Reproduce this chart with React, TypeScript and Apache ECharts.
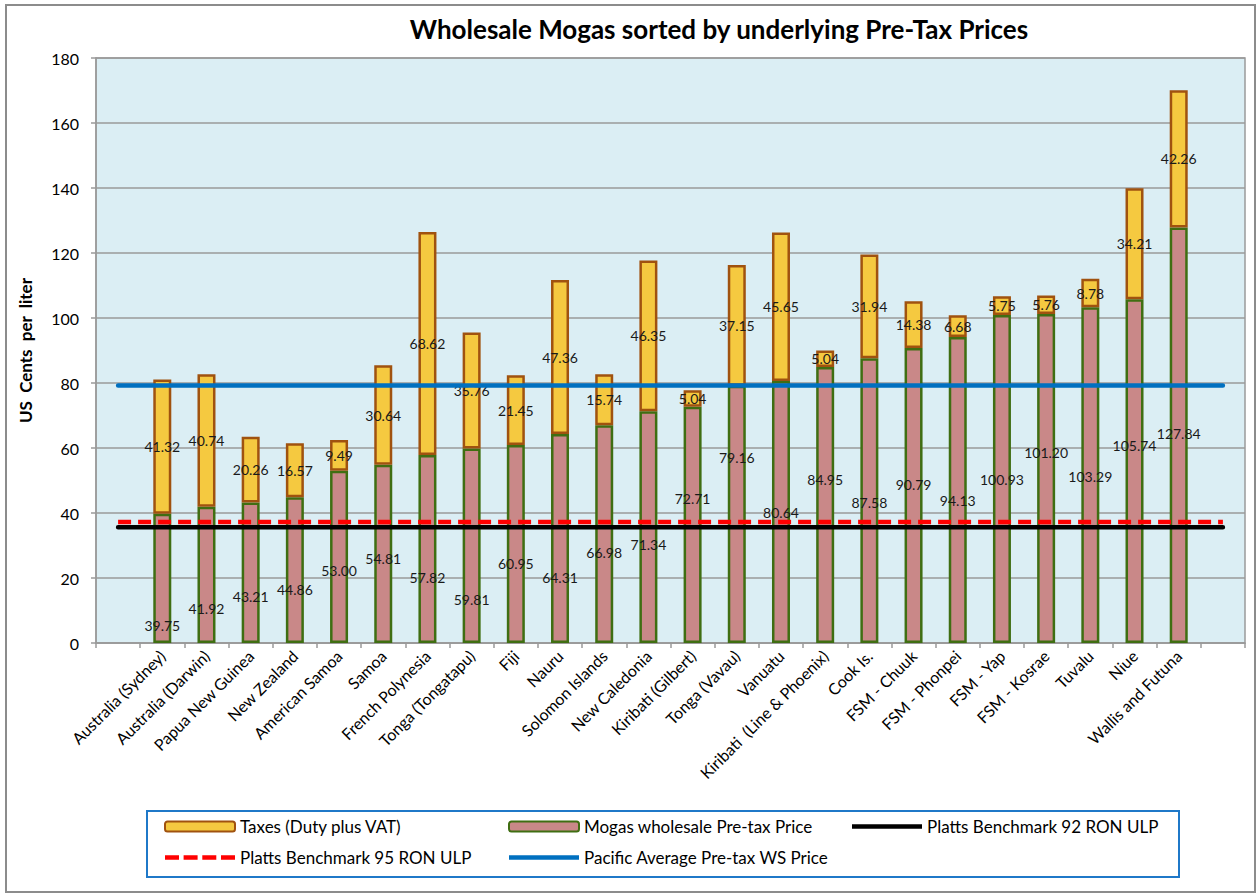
import React, { useEffect, useRef } from "react";
import * as echarts from "echarts";

const countries = [
  "Australia (Sydney)", "Australia (Darwin)", "Papua New Guinea", "New Zealand",
  "American Samoa", "Samoa", "French Polynesia", "Tonga (Tongatapu)", "Fiji", "Nauru",
  "Solomon Islands", "New Caledonia", "Kiribati (Gilbert)", "Tonga (Vavau)", "Vanuatu",
  "Kiribati  (Line & Phoenix)", "Cook Is.", "FSM - Chuuk", "FSM - Phonpei", "FSM - Yap",
  "FSM - Kosrae", "Tuvalu", "Niue", "Wallis and Futuna",
];
const preTax = [
  39.75, 41.92, 43.21, 44.86, 53.0, 54.81, 57.82, 59.81, 60.95, 64.31, 66.98, 71.34,
  72.71, 79.16, 80.64, 84.95, 87.58, 90.79, 94.13, 100.93, 101.2, 103.29, 105.74, 127.84,
];
const taxes = [
  41.32, 40.74, 20.26, 16.57, 9.49, 30.64, 68.62, 35.76, 21.45, 47.36, 15.74, 46.35,
  5.04, 37.15, 45.65, 5.04, 31.94, 14.38, 6.68, 5.75, 5.76, 8.78, 34.21, 42.26,
];
// Benchmark lines, one value per category slot (including the empty edge slots)
const platts92 = [
  35.6, 35.6, 35.6, 35.6, 35.6, 35.6, 35.6, 35.6, 35.6, 35.6, 35.6, 35.6, 35.6,
  35.6, 35.6, 35.6, 35.6, 35.6, 35.6, 35.6, 35.6, 35.6, 35.6, 35.6, 35.6, 35.6,
];
const platts95 = [
  37.2, 37.2, 37.2, 37.2, 37.2, 37.2, 37.2, 37.2, 37.2, 37.2, 37.2, 37.2, 37.2,
  37.2, 37.2, 37.2, 37.2, 37.2, 37.2, 37.2, 37.2, 37.2, 37.2, 37.2, 37.2, 37.2,
];
const pacificAvg = [
  79.2, 79.2, 79.2, 79.2, 79.2, 79.2, 79.2, 79.2, 79.2, 79.2, 79.2, 79.2, 79.2,
  79.2, 79.2, 79.2, 79.2, 79.2, 79.2, 79.2, 79.2, 79.2, 79.2, 79.2, 79.2, 79.2,
];
const yTicks = { min: 0, max: 180, interval: 20 };

// layout: heights (axis units) of the hand-placed pre-tax labels
const preTaxLabelAt = [
  5.5, 10.5, 14.4, 16.5, 22.2, 26.1, 20.1, 13.5, 24.6, 20.1, 27.8, 30.2,
  44.5, 57.2, 40.1, 50.2, 43.3, 48.8, 43.9, 50.2, 58.5, 51.3, 60.8, 64.6,
];

const FONT = "Lato";
const W = 1256;
const H = 894;
const GRID = { left: 96, right: 11, top: 58, bottom: 251 };

const SOLID_ICON = "path://M0,0h70v4.5h-70z";
const DASH_ICON =
  "path://M0,0h14v4.5h-14z M18.6,0h14v4.5h-14z M37.3,0h14v4.5h-14z M56,0h14v4.5h-14z";

export default function App() {
  const ref = useRef<HTMLDivElement>(null);
  useEffect(() => {
    if (!ref.current) return;
    const chart = echarts.init(ref.current, null, { renderer: "svg" });
    const gridH = H - GRID.top - GRID.bottom;
    const ppu = gridH / (yTicks.max - yTicks.min);
    const cats = ["", ...countries, ""];
    const preData = [
      "-",
      ...preTax.map((v, i) => ({
        value: v,
        label: { offset: [0, (v / 2 - preTaxLabelAt[i]) * ppu] },
      })),
      "-",
    ];
    const taxData = ["-", ...taxes, "-"];
    const labelStyle = {
      show: true,
      position: "inside",
      color: "#1a1a1a",
      fontSize: 14,
      fontFamily: FONT,
      formatter: (p: any) => Number(p.value).toFixed(2),
    };
    const legendText = { fontFamily: FONT, fontSize: 17, color: "#000" };
    const legendBase = {
      top: 813,
      orient: "vertical",
      itemWidth: 70,
      itemHeight: 10,
      itemGap: 14,
      textStyle: legendText,
    };
    chart.setOption({
      animation: false,
      backgroundColor: "#ffffff",
      textStyle: { fontFamily: FONT },
      title: {
        text: "Wholesale Mogas sorted by underlying Pre-Tax Prices",
        left: 714,
        textAlign: "center",
        top: 11,
        textStyle: { fontFamily: FONT, fontSize: 26, fontWeight: "bold", color: "#000" },
      },
      graphic: [
        {
          type: "rect",
          shape: { x: 6, y: 5, width: 1249, height: 887 },
          style: { fill: "none", stroke: "#8c8c8c", lineWidth: 2 },
          silent: true,
        },
        {
          type: "rect",
          shape: { x: 147, y: 811, width: 1032, height: 66 },
          style: { fill: "none", stroke: "#1f78c8", lineWidth: 2 },
          silent: true,
        },
      ],
      grid: {
        ...GRID,
        show: true,
        backgroundColor: "#dbeef4",
        borderColor: "#9a9a9a",
        borderWidth: 1.5,
        containLabel: false,
      },
      legend: [
        {
          ...legendBase,
          left: 159,
          data: [
            { name: "Taxes (Duty plus VAT)" },
            { name: "Platts Benchmark 95 RON ULP", icon: DASH_ICON },
          ],
        },
        {
          ...legendBase,
          left: 503,
          data: [
            { name: "Mogas wholesale Pre-tax Price" },
            { name: "Pacific Average Pre-tax WS Price", icon: SOLID_ICON },
          ],
        },
        {
          ...legendBase,
          left: 847,
          data: [{ name: "Platts Benchmark 92 RON ULP", icon: SOLID_ICON }],
        },
      ],
      xAxis: {
        type: "category",
        data: cats,
        boundaryGap: true,
        axisLine: { show: true, lineStyle: { color: "#9a9a9a", width: 1.5 } },
        axisTick: { show: true, interval: 0, length: 5, lineStyle: { color: "#9a9a9a", width: 1.5 } },
        axisLabel: {
          interval: 0,
          rotate: 45,
          fontSize: 16,
          fontFamily: FONT,
          color: "#000",
          margin: 10,
        },
      },
      yAxis: {
        type: "value",
        min: yTicks.min,
        max: yTicks.max,
        interval: yTicks.interval,
        name: "US  Cents  per  liter",
        nameLocation: "middle",
        nameGap: 62,
        nameTextStyle: { fontFamily: FONT, fontSize: 17, fontWeight: "bold", color: "#000" },
        axisLine: { show: true, lineStyle: { color: "#9a9a9a", width: 1.5 } },
        axisTick: { show: true, length: 5, lineStyle: { color: "#9a9a9a", width: 1.5 } },
        axisLabel: { fontSize: 16, fontFamily: FONT, color: "#000", margin: 17 },
        splitLine: { show: true, lineStyle: { color: "#9a9a9a", width: 1.5 } },
      },
      series: [
        {
          name: "Mogas wholesale Pre-tax Price",
          type: "bar",
          stack: "total",
          barWidth: 18,
          data: preData,
          itemStyle: { color: "#c98888", borderColor: "#3f6e12", borderWidth: 2.5 },
          label: labelStyle,
          z: 2,
        },
        {
          name: "Taxes (Duty plus VAT)",
          type: "bar",
          stack: "total",
          barWidth: 18,
          data: taxData,
          itemStyle: { color: "#f5c940", borderColor: "#a0520f", borderWidth: 2.5 },
          label: labelStyle,
          z: 2,
        },
        {
          name: "Platts Benchmark 92 RON ULP",
          type: "line",
          data: platts92,
          symbol: "none",
          lineStyle: { color: "#000000", width: 4.5, cap: "round" },
          itemStyle: { color: "#000000" },
          z: 3,
        },
        {
          name: "Platts Benchmark 95 RON ULP",
          type: "line",
          data: platts95,
          symbol: "none",
          lineStyle: { color: "#ff0000", width: 4.5, type: [13, 7] },
          itemStyle: { color: "#ff0000" },
          z: 3,
        },
        {
          name: "Pacific Average Pre-tax WS Price",
          type: "line",
          data: pacificAvg,
          symbol: "none",
          lineStyle: { color: "#0070c0", width: 4.5, cap: "round" },
          itemStyle: { color: "#0070c0" },
          z: 3,
        },
      ],
    });
    return () => chart.dispose();
  }, []);
  return (
    <div
      ref={ref}
      style={{ position: "absolute", left: 0, top: 0, width: W, height: H }}
    />
  );
}
